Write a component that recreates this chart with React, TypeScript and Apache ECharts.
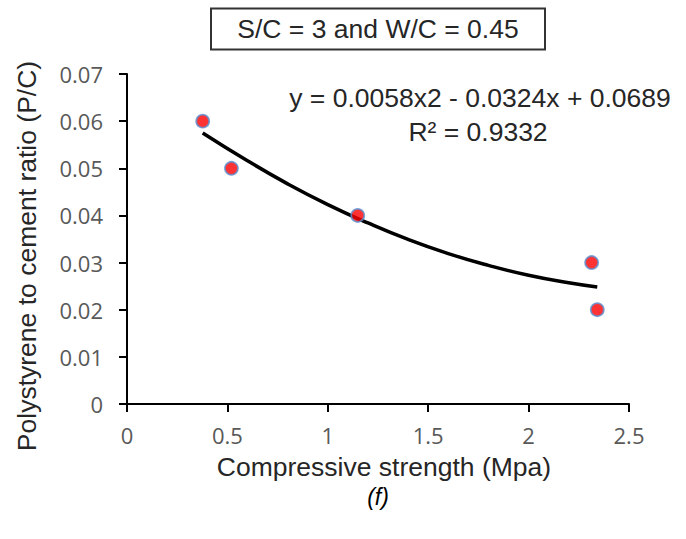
import React, { useEffect, useRef } from "react";
import * as echarts from "echarts";

// Measured points: compressive strength (MPa) vs polystyrene-to-cement ratio
const strength = [0.377, 0.52, 1.149, 2.314, 2.342];
const pcRatio = [0.06, 0.05, 0.04, 0.03, 0.02];

// Polynomial trendline
const trendX = [0.377, 0.6, 0.8, 1.0, 1.2, 1.4, 1.6, 1.8, 2.0, 2.2, 2.342];
const trendY = [0.0575, 0.0516, 0.0467, 0.0423, 0.0384, 0.0349, 0.0319, 0.0294, 0.0273, 0.0257, 0.0248];

const xTickLabels = ["0", "0.5", "1", "1.5", "2", "2.5"];
const yTickLabels = ["0", "0.01", "0.02", "0.03", "0.04", "0.05", "0.06", "0.07"];

const chartTitle = "S/C = 3 and W/C = 0.45";
const equation = "y = 0.0058x2 - 0.0324x + 0.0689";
const rSquared = "R² = 0.9332";
const xAxisTitle = "Compressive strength (Mpa)";
const yAxisTitle = "Polystyrene to cement ratio (P/C)";
const caption = "(f)";

const ARIAL = '"Liberation Sans", Arial, sans-serif';
const CALIBRI = '"Open Sans", "Noto Sans", sans-serif';

function txt(text: string, x: number, y: number, extra: any = {}) {
  return {
    type: "text",
    x,
    y,
    rotation: extra.rotation || 0,
    z: 10,
    style: {
      text,
      fontFamily: ARIAL,
      fontSize: extra.fontSize || 26.5,
      fontStyle: extra.fontStyle || "normal",
      fill: extra.fill || "#262626",
      align: "center",
      verticalAlign: "middle",
      textAlign: "center",
      textVerticalAlign: "middle",
    },
  };
}

export default function App() {
  const ref = useRef<HTMLDivElement>(null);
  useEffect(() => {
    if (!ref.current) return;
    const chart = echarts.init(ref.current, undefined, { renderer: "svg" });
    const option: any = {
      animation: false,
      backgroundColor: "#ffffff",
      grid: { left: 127, right: 57, top: 74, bottom: 135 },
      xAxis: {
        type: "value",
        min: 0,
        max: 2.5,
        interval: 0.5,
        axisLine: { show: true, onZero: false, lineStyle: { color: "#000", width: 2 } },
        axisTick: { show: true, length: 8, lineStyle: { color: "#000", width: 2 } },
        splitLine: { show: false },
        axisLabel: {
          color: "#595959",
          fontFamily: CALIBRI,
          fontSize: 22,
          margin: 20,
          formatter: (v: number) => xTickLabels[Math.round(v / 0.5)] ?? String(v),
        },
      },
      yAxis: {
        type: "value",
        min: 0,
        max: 0.07,
        interval: 0.01,
        axisLine: { show: true, onZero: false, lineStyle: { color: "#000", width: 2 } },
        axisTick: { show: true, length: 8, lineStyle: { color: "#000", width: 2 } },
        splitLine: { show: false },
        axisLabel: {
          color: "#595959",
          fontFamily: CALIBRI,
          fontSize: 22,
          margin: 24,
          formatter: (v: number) => yTickLabels[Math.round(v / 0.01)] ?? String(v),
        },
      },
      series: [
        {
          type: "line",
          data: trendX.map((x, i) => [x, trendY[i]]),
          smooth: true,
          showSymbol: false,
          symbol: "none",
          lineStyle: { color: "#000", width: 3.5 },
          z: 2,
        },
        {
          type: "scatter",
          data: strength.map((x, i) => [x, pcRatio[i]]),
          symbol: "circle",
          symbolSize: 13,
          itemStyle: { color: "#ff0000", borderColor: "#5b8fd0", borderWidth: 1.8 },
          z: 3,
        },
      ],
      graphic: [
        {
          type: "rect",
          shape: { x: 211, y: 8.5, width: 334, height: 41 },
          style: { fill: "#ffffff", stroke: "#333333", lineWidth: 2 },
          z: 9,
        },
        txt(chartTitle, 378, 29),
        txt(equation, 480, 98),
        txt(rSquared, 478, 132),
        txt(yAxisTitle, 27, 256, { rotation: Math.PI / 2 }),
        txt(xAxisTitle, 384, 467),
        txt(caption, 378, 497, { fontSize: 23, fontStyle: "italic", fill: "#000" }),
      ],
    };
    chart.setOption(option);
    return () => chart.dispose();
  }, []);
  return (
    <div
      ref={ref}
      style={{ position: "fixed", left: 0, top: 0, width: 686, height: 539, background: "#fff" }}
    />
  );
}
